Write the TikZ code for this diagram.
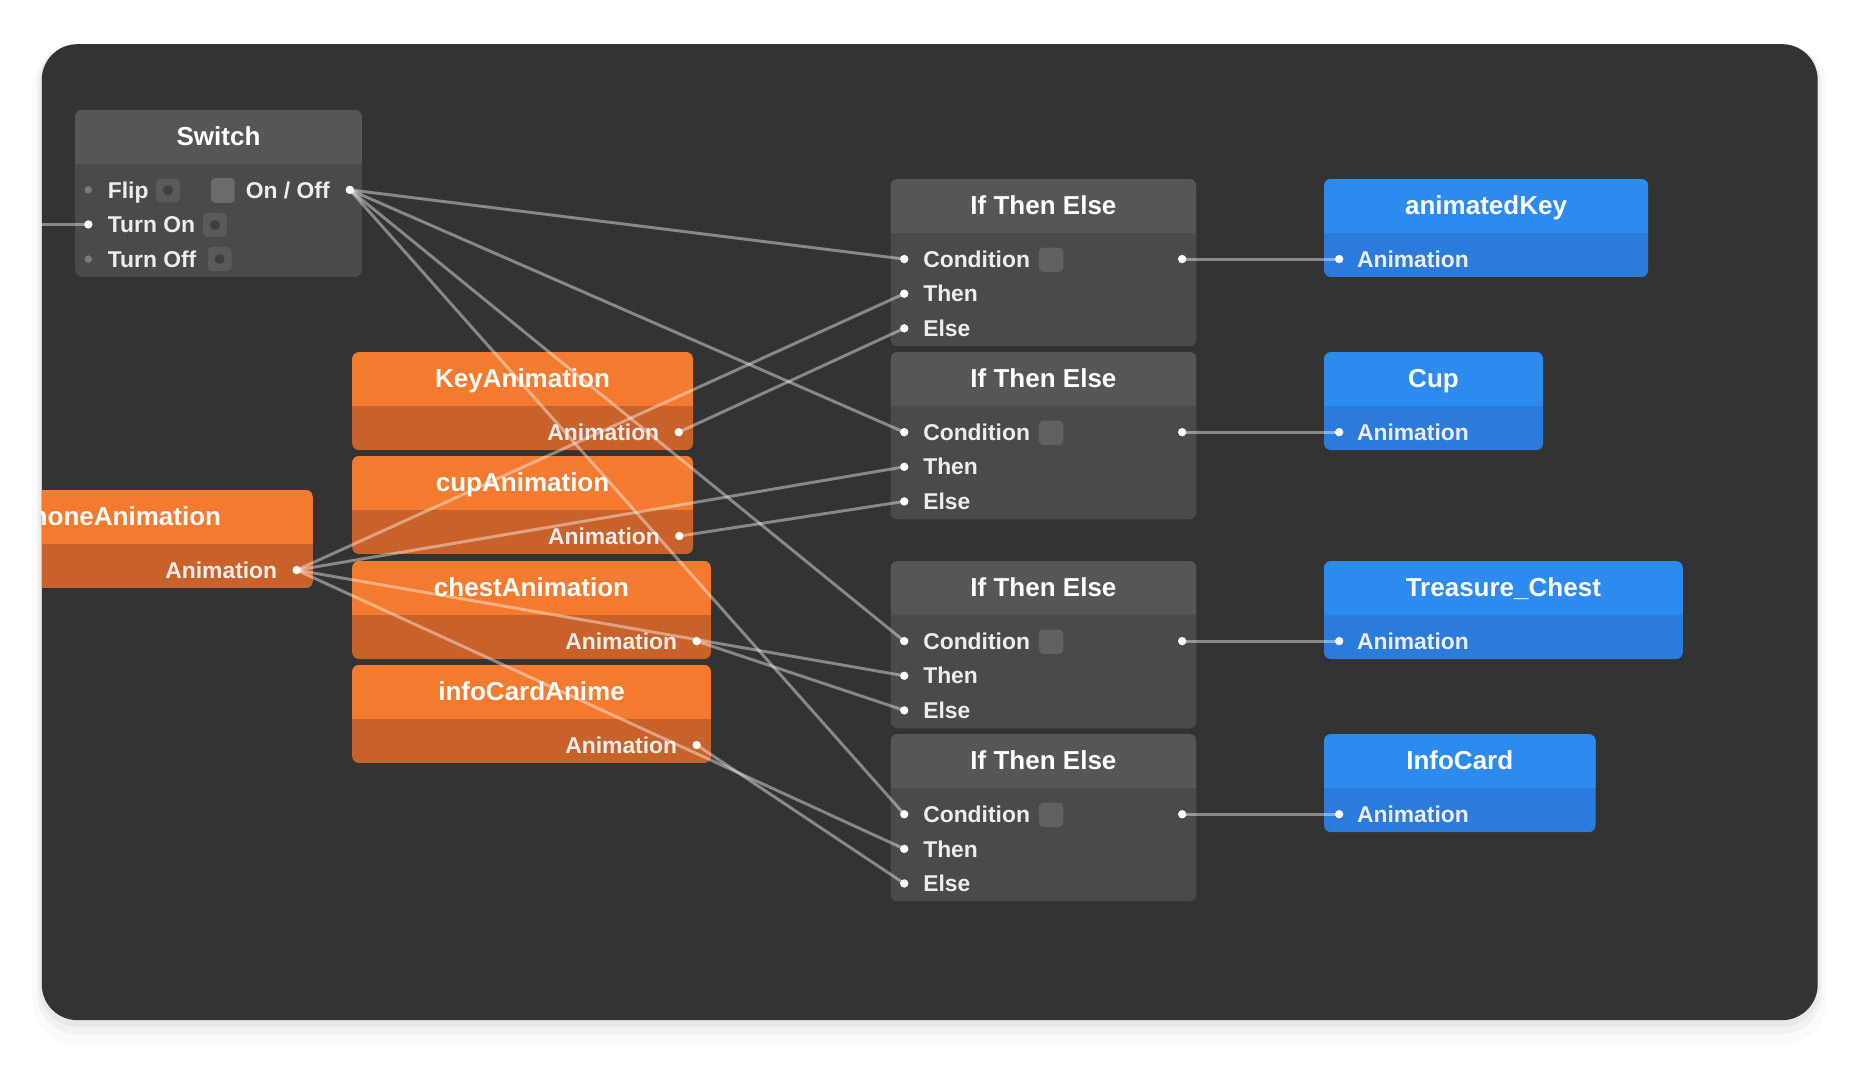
\documentclass[tikz,border=0pt]{standalone}
\usepackage{fontspec}
\setmainfont{Liberation Sans}

\definecolor{panelgray}{HTML}{333333}
\definecolor{gheadc}{HTML}{565656}
\definecolor{gbodyc}{HTML}{4A4A4A}
\definecolor{oheadc}{HTML}{F37A2F}
\definecolor{obodyc}{HTML}{C9622A}
\definecolor{bheadc}{HTML}{2D8AEF}
\definecolor{bbodyc}{HTML}{2A7BDB}
\definecolor{chkc}{HTML}{616161}
\definecolor{iconc}{HTML}{5A5A5A}
\definecolor{holec}{HTML}{3F3F3F}
\definecolor{togglec}{HTML}{6B6B6B}
\definecolor{dimc}{HTML}{7A7A7A}

\pgfdeclarelayer{wires}
\pgfdeclarelayer{top}
\pgfsetlayers{main,wires,top}

\tikzset{
  card/.style 2 args={fill=#2, rounded corners=3.2pt,
    path picture={\fill[fill=#1, sharp corners] (path picture bounding box.north west) rectangle ([yshift=-.9cm]path picture bounding box.north east);}},
  gcard/.style={card={gheadc}{gbodyc}},
  ocard/.style={card={oheadc}{obodyc}},
  bcard/.style={card={bheadc}{bbodyc}},
  title/.style={text=white, font=\fontsize{12.4}{14}\selectfont\bfseries, inner sep=0pt, text height=8.9pt, text depth=0pt},
  port/.style={text=white!93!black, font=\fontsize{10.9}{13}\selectfont\bfseries, inner sep=0pt, text height=7.8pt, text depth=0pt},
  dot/.style={circle, fill=white, inner sep=0pt, minimum size=4pt},
  dimdot/.style={circle, fill=dimc, inner sep=0pt, minimum size=3.6pt},
  chk/.style={rectangle, fill=chkc, rounded corners=2pt, inner sep=0pt, minimum size=11.6pt},
  icon/.style={rectangle, fill=iconc, rounded corners=2pt, inner sep=0pt, minimum size=11.3pt,
    path picture={\fill[holec] (path picture bounding box.center) circle (2.4pt);}},
  toggle/.style={rectangle, fill=togglec, rounded corners=2pt, inner sep=0pt, minimum width=11.3pt, minimum height=11.9pt},
  wire/.style={draw=white, opacity=.42, line width=1.4pt, line cap=round},
}

\begin{document}
\begin{tikzpicture}[x=0.02cm, y=-0.02cm]
\useasboundingbox (0,0) rectangle (1568,899.6);
\fill[white] (0,0) rectangle (1568,899.6);
% soft shadow round the panel
\fill[black, opacity=.02, rounded corners=21pt] (27,37) rectangle (1530,875);
\fill[black, opacity=.03, rounded corners=19pt] (31,37) rectangle (1526,866);
\fill[black, opacity=.04, rounded corners=18pt] (33,37) rectangle (1524,860);
\fill[panelgray, rounded corners=17pt] (35,37) rectangle (1522.5,854.5);

% Switch
\fill[gcard] (63,92) rectangle (303,232);
\node[title] (swT) at (183,113.7) {Switch};
\node[port, anchor=west] (swFlipL) at (90,159) {Flip};
\node[icon] (swFlipI) at (140.7,159.5) {};
\node[toggle] (swTog) at (186.6,159.5) {};
\node[port, anchor=east] (swOnOffL) at (276.5,159) {On / Off};
\node[port, anchor=west] (swOnL) at (90,188) {Turn On};
\node[icon] (swOnI) at (180,188.5) {};
\node[port, anchor=west] (swOffL) at (90,217) {Turn Off};
\node[icon] (swOffI) at (184,217) {};
\coordinate (swEdge) at (35,188);

% If Then Else blocks
\fill[gcard] (746,150) rectangle (1002,290);
\node[title] (ite1T) at (874,171.7) {If Then Else};
\node[port, anchor=west] (ite1cL) at (773,217) {Condition};
\node[port, anchor=west] (ite1tL) at (773,246) {Then};
\node[port, anchor=west] (ite1eL) at (773,275) {Else};
\node[chk] (ite1k) at (880.4,217.5) {};

\fill[gcard] (746,295) rectangle (1002,435);
\node[title] (ite2T) at (874,316.7) {If Then Else};
\node[port, anchor=west] (ite2cL) at (773,362) {Condition};
\node[port, anchor=west] (ite2tL) at (773,391) {Then};
\node[port, anchor=west] (ite2eL) at (773,420) {Else};
\node[chk] (ite2k) at (880.4,362.5) {};

\fill[gcard] (746,470) rectangle (1002,610);
\node[title] (ite3T) at (874,491.7) {If Then Else};
\node[port, anchor=west] (ite3cL) at (773,537) {Condition};
\node[port, anchor=west] (ite3tL) at (773,566) {Then};
\node[port, anchor=west] (ite3eL) at (773,595) {Else};
\node[chk] (ite3k) at (880.4,537.5) {};

\fill[gcard] (746,615) rectangle (1002,755);
\node[title] (ite4T) at (874,636.7) {If Then Else};
\node[port, anchor=west] (ite4cL) at (773,682) {Condition};
\node[port, anchor=west] (ite4tL) at (773,711) {Then};
\node[port, anchor=west] (ite4eL) at (773,740) {Else};
\node[chk] (ite4k) at (880.4,682.5) {};

% targets
\fill[bcard] (1109,150) rectangle (1380.5,232);
\node[title] (akT) at (1244.7,171.7) {animatedKey};
\node[port, anchor=west] (akL) at (1136.3,217) {Animation};
\fill[bcard] (1109,295) rectangle (1292.5,377);
\node[title] (cpT) at (1200.7,316.7) {Cup};
\node[port, anchor=west] (cpL) at (1136.3,362) {Animation};
\fill[bcard] (1109,470) rectangle (1409.5,552);
\node[title] (tcT) at (1259.2,491.7) {Treasure\_Chest};
\node[port, anchor=west] (tcL) at (1136.3,537) {Animation};
\fill[bcard] (1109,615) rectangle (1336.5,697);
\node[title] (icT) at (1222.7,636.7) {InfoCard};
\node[port, anchor=west] (icL) at (1136.3,682) {Animation};

% animations
\fill[ocard] (295,295) rectangle (580.5,377);
\node[title] (kaT) at (437.7,316.7) {KeyAnimation};
\node[port, anchor=east] (kaL) at (552.5,362) {Animation};
\fill[ocard] (295,382) rectangle (580.5,464);
\node[title] (caT) at (437.7,403.7) {cupAnimation};
\node[port, anchor=east] (caL) at (553,449) {Animation};
\fill[ocard] (295,470) rectangle (595.5,552);
\node[title] (chT) at (445.2,491.7) {chestAnimation};
\node[port, anchor=east] (chL) at (567.5,537) {Animation};
\fill[ocard] (295,557) rectangle (595.5,639);
\node[title] (inT) at (445.2,578.7) {infoCardAnime};
\node[port, anchor=east] (inL) at (567.5,624) {Animation};
\begin{scope}
\clip (35,0) rectangle (1568,899.6);
\fill[ocard] (-60,410.5) rectangle (262,492.5);
\node[title] (phT) at (99.2,432.2) {phoneAnimation};
\end{scope}
\node[port, anchor=east] (phL) at (232.5,477.5) {Animation};

\begin{pgfonlayer}{top}
\node[dimdot] (swFlip) at (74,159) {};
\node[dot] (swOnOff) at (293,159) {};
\node[dot] (swOn) at (74,188) {};
\node[dimdot] (swOff) at (74,217) {};
\node[dot] (ite1c) at (757.4,217) {};
\node[dot] (ite1t) at (757.4,246) {};
\node[dot] (ite1e) at (757.4,275) {};
\node[dot] (ite1o) at (990.2,217) {};
\node[dot] (ite2c) at (757.4,362) {};
\node[dot] (ite2t) at (757.4,391) {};
\node[dot] (ite2e) at (757.4,420) {};
\node[dot] (ite2o) at (990.2,362) {};
\node[dot] (ite3c) at (757.4,537) {};
\node[dot] (ite3t) at (757.4,566) {};
\node[dot] (ite3e) at (757.4,595) {};
\node[dot] (ite3o) at (990.2,537) {};
\node[dot] (ite4c) at (757.4,682) {};
\node[dot] (ite4t) at (757.4,711) {};
\node[dot] (ite4e) at (757.4,740) {};
\node[dot] (ite4o) at (990.2,682) {};
\node[dot] (akIn) at (1121.7,217) {};
\node[dot] (cpIn) at (1121.7,362) {};
\node[dot] (tcIn) at (1121.7,537) {};
\node[dot] (icIn) at (1121.7,682) {};
\node[dot] (kaOut) at (568.5,362) {};
\node[dot] (caOut) at (569,449) {};
\node[dot] (chOut) at (583.5,537) {};
\node[dot] (inOut) at (583.5,624) {};
\node[dot] (phOut) at (248.5,477.5) {};
\end{pgfonlayer}

\begin{pgfonlayer}{wires}
\draw[wire] (swEdge) -- (swOn.center);
% On / Off into every condition
\draw[wire] (swOnOff.center) -- (ite1c.center);
\draw[wire] (swOnOff.center) -- (ite2c.center);
\draw[wire] (swOnOff.center) -- (ite3c.center);
\draw[wire] (swOnOff.center) -- (ite4c.center);
% phone into every Then
\draw[wire] (phOut.center) -- (ite1t.center);
\draw[wire] (phOut.center) -- (ite2t.center);
\draw[wire] (phOut.center) -- (ite3t.center);
\draw[wire] (phOut.center) -- (ite4t.center);
% Else inputs
\draw[wire] (kaOut.center) -- (ite1e.center);
\draw[wire] (caOut.center) -- (ite2e.center);
\draw[wire] (chOut.center) -- (ite3e.center);
\draw[wire] (inOut.center) -- (ite4e.center);
% outputs
\draw[wire] (ite1o.center) -- (akIn.center);
\draw[wire] (ite2o.center) -- (cpIn.center);
\draw[wire] (ite3o.center) -- (tcIn.center);
\draw[wire] (ite4o.center) -- (icIn.center);
\end{pgfonlayer}
\end{tikzpicture}
\end{document}
